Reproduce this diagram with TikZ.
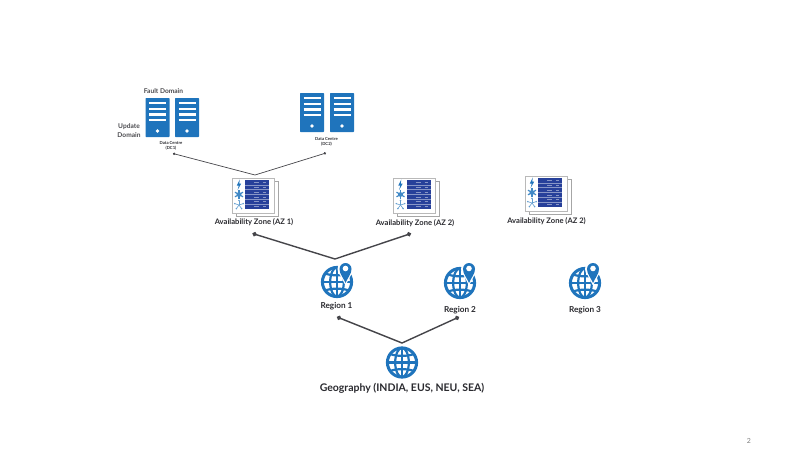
\documentclass[tikz,border=0pt]{standalone}
\usepackage{fontspec}
\setmainfont{Lato}
\usetikzlibrary{arrows.meta,positioning}
\definecolor{iconblue}{HTML}{1F74BC}
\definecolor{paneblue}{HTML}{27409A}
\definecolor{linkgray}{HTML}{45454A}
\definecolor{labelgray}{HTML}{2A2A2F}
\tikzset{
    serverbox/.pic={
        \fill[iconblue, rounded corners=.6pt] (0,0) rectangle (24,39);
        \foreach \y in {5,10.7,16.5,22.3} {\draw[white, line width=2.3pt] (3.5,\y) -- (20.5,\y);}
        \fill[white] (12,33) circle (1.9pt);
    },
    zonebox/.pic={
        \draw[gray!70, line width=.5pt, fill=white] (4,3) rectangle (46,38);
        \draw[gray!55, line width=.5pt, fill=white] (0,0) rectangle (42,35);
        \fill[paneblue] (13,2) rectangle (37,31);
        \foreach \y in {6.8,11.6,16.4,21.2,26} {\draw[white!45!paneblue, line width=.4pt] (13,\y) -- (37,\y);}
        \foreach \y in {4.4,9.2,14,18.8,23.6,28.4} {\draw[white!45!paneblue, line width=.6pt] (22,\y) -- (27,\y) (31,\y) -- (34,\y);}
        \fill[iconblue] (7.8,1.5) -- (4.8,7.5) -- (6.8,7.5) -- (5.6,12) -- (9.2,5.6) -- (7.2,5.6) -- cycle;
        \foreach \a in {30,90,150} {\draw[iconblue!85, line width=1.2pt] ({7+4.6*cos(\a)},{16.5+4.6*sin(\a)}) -- ({7-4.6*cos(\a)},{16.5-4.6*sin(\a)});}
        \fill[iconblue!85] (7,16.5) circle (2.4pt);
        \foreach \a in {90,162,234,306,18} {\draw[iconblue!70, line width=.6pt] (7,27) -- ++(\a:4.5pt); \fill[iconblue!70] (7,27) ++(\a:4.5pt) circle (.8pt);}
    },
    globeicon/.pic={
        \draw[iconblue, line width=3pt] (0,0) circle (14.6pt);
        \draw[iconblue, line width=2.2pt] (0,0) ellipse (6.8pt and 14.6pt);
        \draw[iconblue, line width=2.2pt] (0,-14.6) -- (0,14.6) (-14.6,0) -- (14.6,0);
        \draw[iconblue, line width=2.2pt] (-12,-8.5) .. controls (-5,-6) and (5,-6) .. (12,-8.5);
        \draw[iconblue, line width=2.2pt] (-12,8.5) .. controls (-5,6) and (5,6) .. (12,8.5);
    },
    pinicon/.pic={
        \fill[white] (0,-1) circle (8pt);
        \fill[white] (-7,2) -- (0,15.5) -- (7,2) -- cycle;
        \fill[iconblue] (0,13) .. controls (-2,8) and (-6,4) .. (-6,-1) arc[start angle=180, end angle=0, radius=6pt] .. controls (6,4) and (2,8) .. (0,13) -- cycle;
        \fill[white] (0,-1.5) circle (2.8pt);
    },
    zonelabel/.style={font=\fontsize{7.6}{9}\selectfont\bfseries, text=labelgray, inner sep=0pt},
    regionlabel/.style={font=\fontsize{8.2}{10}\selectfont\bfseries, text=labelgray, inner sep=0pt},
    centrelabel/.style={font=\fontsize{4.2}{5}\selectfont\bfseries, text=labelgray, align=center, inner sep=0pt},
    domainlabel/.style={font=\fontsize{6.6}{8.2}\selectfont\bfseries, text=labelgray!85, align=center, inner sep=0pt},
    thinlink/.style={linkgray, line width=.7pt, {Circle[length=2.4pt]}-{Circle[length=2.4pt]}},
    thicklink/.style={linkgray, line width=1.4pt, {Circle[length=4.4pt]}-{Circle[length=4.4pt]}},
}
\begin{document}
\begin{tikzpicture}[x=1pt, y=-1pt]
\useasboundingbox (0,0) rectangle (800,450);
% data centres
\pic at (145.5,98) {serverbox};
\pic at (175,98) {serverbox};
\pic at (300,93) {serverbox};
\pic at (330,93) {serverbox};
\node[domainlabel] (fault) at (163.5,91) {Fault Domain};
\node[domainlabel] (update) at (129,130.5) {Update\\Domain};
\node[centrelabel] (dcone) at (171,145.5) {Data Centre\\(DC1)};
\node[centrelabel] (dctwo) at (326.5,141.5) {Data Centre\\(DC2)};
% zones
\pic at (232,178) {zonebox};
\pic at (393.5,178) {zonebox};
\pic at (525,176) {zonebox};
\node[zonelabel] (azone) at (254,222.5) {Availability Zone (AZ 1)};
\node[zonelabel] (aztwo) at (415,223) {Availability Zone (AZ 2)};
\node[zonelabel] (azthree) at (546.5,221) {Availability Zone (AZ 2)};
% regions
\pic at (337,282) {globeicon};
\pic at (345.5,270) {pinicon};
\pic at (460,283) {globeicon};
\pic at (469,270) {pinicon};
\pic at (585,283) {globeicon};
\pic at (593,270) {pinicon};
\node[regionlabel] (regone) at (336.5,306.5) {Region 1};
\node[regionlabel] (regtwo) at (460,310) {Region 2};
\node[regionlabel] (regthree) at (585,310.5) {Region 3};
% geography
\pic at (402,362.5) {globeicon};
\node[font=\fontsize{10.5}{13}\selectfont\bfseries, text=labelgray, inner sep=0pt] (geo) at (402,388) {Geography (INDIA, EUS, NEU, SEA)};
\node[font=\fontsize{7}{8}\selectfont, text=gray, inner sep=0pt] (pagenum) at (749,441) {2};
% connectors
\coordinate (dcjoin) at (255,175);
\coordinate (azjoin) at (335,259);
\coordinate (regjoin) at (402,343);
\coordinate (dcdotone) at (173,153.5);
\coordinate (dcdottwo) at (326,153);
\coordinate (azdotone) at (252.5,233.5);
\coordinate (azdottwo) at (411,233.5);
\coordinate (regdotone) at (337,317);
\coordinate (regdottwo) at (459,317);
\draw[thinlink] (dcdotone) -- (dcjoin) -- (dcdottwo);
\draw[thicklink] (azdotone) -- (azjoin) -- (azdottwo);
\draw[thicklink] (regdotone) -- (regjoin) -- (regdottwo);
\end{tikzpicture}
\end{document}
